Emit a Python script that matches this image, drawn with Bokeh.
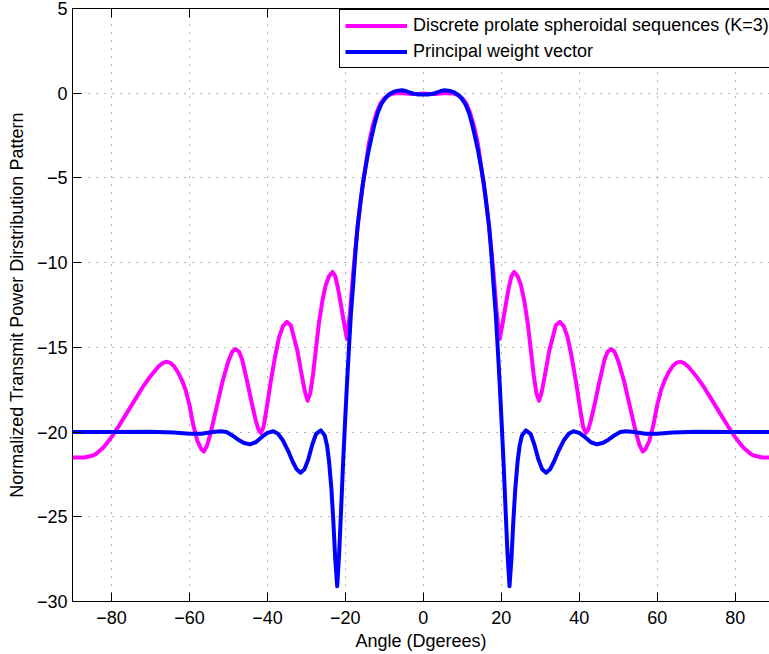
from bokeh.plotting import figure
from bokeh.models import Range1d, FixedTicker, LinearAxis, Legend, LegendItem
from bokeh.embed import file_html
from bokeh.resources import INLINE

# Discrete prolate spheroidal sequences (K=3)
angle_dpss = [-90, -87, -85, -84, -82, -80, -78, -76, -74, -72, -70, -68, -67, -66, -65, -64, -63, -62, -61,
              -60, -59, -58, -57, -56.3, -55.5, -54.5, -53, -51.5, -50, -49, -48.2, -47.3, -46.5, -45.1, -44,
              -43, -42.3, -41.7, -41, -40.2, -39.2, -38, -37, -36, -35, -34, -33.2, -32.3, -31.3, -30.4,
              -29.7, -29, -28.3, -27.6, -26.8, -25.9, -25, -24.2, -23.3, -22.6, -21.9, -21.2, -20.4, -19.6,
              -18.8, -18, -17, -16, -15, -14, -13, -12, -11, -10, -9, -8, -7, -5, -3, -1.5, 0,
              1.5, 3, 5, 7, 8, 9, 10, 11, 12, 13, 14, 15, 16, 17, 18, 18.8, 19.6, 20.4, 21.2, 21.9, 22.6,
              23.3, 24.2, 25, 25.9, 26.8, 27.6, 28.3, 29, 29.7, 30.4, 31.3, 32.3, 33.2, 34, 35, 36, 37, 38,
              39.2, 40.2, 41, 41.7, 42.3, 43, 44, 45.1, 46.5, 47.3, 48.2, 49, 50, 51.5, 53, 54.5, 55.5, 56.3,
              57, 58, 59, 60, 61, 62, 63, 64, 65, 66, 67, 68, 70, 72, 74, 76, 78, 80, 82, 84, 85, 87, 90]
gain_dpss = [-21.5, -21.5, -21.4, -21.3, -20.9, -20.3, -19.6, -18.85, -18.1, -17.35, -16.7, -16.15, -15.95,
             -15.85, -15.9, -16.1, -16.45, -16.9, -17.5, -18.4, -19.6, -20.5, -21.0, -21.15, -20.8, -20.0,
             -18.5, -17.0, -15.8, -15.25, -15.1, -15.25, -15.7, -17.1, -18.3, -19.3, -19.85, -20.05, -19.7,
             -18.6, -17.1, -15.5, -14.4, -13.75, -13.5, -13.7, -14.4, -15.2, -16.5, -17.6, -18.15, -17.7,
             -16.6, -15.2, -13.6, -12.25, -11.3, -10.8, -10.55, -10.8, -11.5, -12.4, -13.5, -14.5, -12.9,
             -10.6, -8.2, -6.2, -4.6, -3.0, -1.95, -1.15, -0.6, -0.3, -0.13, -0.04, 0.0, 0.0, -0.05, -0.04,
             -0.02,
             -0.04, -0.05, 0.0, 0.0, -0.04, -0.13, -0.3, -0.6, -1.15, -1.95, -3.0, -4.6, -6.2, -8.2, -10.6,
             -12.9, -14.5, -13.5, -12.4, -11.5, -10.8, -10.55, -10.8, -11.3, -12.25, -13.6, -15.2, -16.6,
             -17.7, -18.15, -17.6, -16.5, -15.2, -14.4, -13.7, -13.5, -13.75, -14.4, -15.5, -17.1, -18.6,
             -19.7, -20.05, -19.85, -19.3, -18.3, -17.1, -15.7, -15.25, -15.1, -15.25, -15.8, -17.0, -18.5,
             -20.0, -20.8, -21.15, -21.0, -20.5, -19.6, -18.4, -17.5, -16.9, -16.45, -16.1, -15.9, -15.85,
             -15.95, -16.15, -16.7, -17.35, -18.1, -18.85, -19.6, -20.3, -20.9, -21.3, -21.4, -21.5, -21.5]

# Principal weight vector
angle_pwv = [-90, -80, -70, -64, -60, -57, -54, -52, -50.5, -49, -47.5, -46, -44.5, -43, -41.5, -40, -38.5,
             -37.3, -36, -34.5, -33.5, -32.5, -31.5, -30.5, -29.5, -28.5, -27.5, -26.3, -25.3, -24.7, -24.2,
             -23.6, -23.1, -22.6, -22.1, -21.6, -21.1, -20.6, -20.1, -19.6, -19.1, -18.6, -18.0, -17.4,
             -16.8, -16.1, -15.5, -14.8, -14.0, -13.3, -12.5, -11.7, -10.8, -9.8, -8.8, -7.8, -6.8, -5.5,
             -4.5, -3.5, -2.5, -1.2, 0,
             1.2, 2.5, 3.5, 4.5, 5.5, 6.8, 7.8, 8.8, 9.8, 10.8, 11.7, 12.5, 13.3, 14.0, 14.8, 15.5, 16.1,
             16.8, 17.4, 18.0, 18.6, 19.1, 19.6, 20.1, 20.6, 21.1, 21.6, 22.1, 22.6, 23.1, 23.6, 24.2, 24.7,
             25.3, 26.3, 27.5, 28.5, 29.5, 30.5, 31.5, 32.5, 33.5, 34.5, 36, 37.3, 38.5, 40, 41.5, 43, 44.5,
             46, 47.5, 49, 50.5, 52, 54, 57, 60, 64, 70, 80, 90]
gain_pwv = [-20.0, -20.0, -19.98, -20.02, -20.1, -20.1, -20.0, -19.95, -20.0, -20.2, -20.45, -20.65, -20.72,
            -20.6, -20.3, -20.05, -19.95, -20.1, -20.5, -21.2, -21.75, -22.2, -22.4, -22.2, -21.6, -20.75,
            -20.1, -19.9, -20.2, -20.8, -21.7, -23.3, -25.2, -27.5, -29.1, -27.2, -24.6, -21.9, -19.5,
            -17.2, -15.1, -13.1, -11.3, -9.3, -7.7, -6.4, -5.3, -4.35, -3.35, -2.6, -1.8, -1.15, -0.65,
            -0.3, -0.08, 0.06, 0.13, 0.17, 0.13, 0.04, -0.03, -0.07, -0.08,
            -0.07, -0.03, 0.04, 0.13, 0.17, 0.13, 0.06, -0.08, -0.3, -0.65, -1.15, -1.8, -2.6, -3.35,
            -4.35, -5.3, -6.4, -7.7, -9.3, -11.3, -13.1, -15.1, -17.2, -19.5, -21.9, -24.6, -27.2, -29.1,
            -27.5, -25.2, -23.3, -21.7, -20.8, -20.2, -19.9, -20.1, -20.75, -21.6, -22.2, -22.4, -22.2,
            -21.75, -21.2, -20.5, -20.1, -19.95, -20.05, -20.3, -20.6, -20.72, -20.65, -20.45, -20.2,
            -20.0, -19.95, -20.0, -20.1, -20.1, -20.02, -19.98, -20.0, -20.0]

x_ticks = [-80, -60, -40, -20, 0, 20, 40, 60, 80]
x_tick_labels = ["−80", "−60", "−40", "−20", "0", "20", "40", "60", "80"]
y_ticks = [5, 0, -5, -10, -15, -20, -25, -30]
y_tick_labels = ["5", "0", "−5", "−10", "−15", "−20", "−25", "−30"]

series_labels = ["Discrete prolate spheroidal sequences (K=3)", "Principal weight vector"]
x_title = "Angle (Dgerees)"
y_title = "Normalized Transmit Power Dirstribution Pattern"

FONT = "Liberation Sans"

p = figure(width=769, height=654, output_backend="svg", toolbar_location=None,
           x_range=Range1d(-90, 88.8), y_range=Range1d(-30, 5),
           min_border_left=72, min_border_right=0, min_border_top=8, min_border_bottom=53)
p.outline_line_color = None
p.background_fill_color = "white"
p.border_fill_color = "white"

r1 = p.line(angle_dpss, gain_dpss, line_color="#FF00FF", line_width=4, line_join="round")
r2 = p.line(angle_pwv, gain_pwv, line_color="#0000FF", line_width=4, line_join="round")

for ax, ticks, labels in ((p.xaxis[0], x_ticks, x_tick_labels), (p.yaxis[0], y_ticks, y_tick_labels)):
    ax.ticker = FixedTicker(ticks=ticks)
    ax.major_label_overrides = {t: l for t, l in zip(ticks, labels)}
    ax.major_tick_in = 9
    ax.major_tick_out = 0
    ax.minor_tick_line_color = None
    ax.axis_line_color = "black"
    ax.axis_line_width = 1
    ax.major_tick_line_color = "black"
    ax.major_label_text_font = FONT
    ax.major_label_text_font_size = "18px"
    ax.major_label_text_color = "black"
    ax.axis_label_text_font = FONT
    ax.axis_label_text_font_size = "18px"
    ax.axis_label_text_font_style = "normal"
    ax.axis_label_text_color = "black"

p.xaxis[0].axis_label = x_title
p.yaxis[0].axis_label = y_title
p.xaxis[0].major_label_standoff = 9
p.xaxis[0].axis_label_standoff = 4
p.yaxis[0].major_label_standoff = 5
p.yaxis[0].axis_label_standoff = 7

top = LinearAxis(ticker=FixedTicker(ticks=x_ticks), major_tick_in=9, major_tick_out=0,
                 minor_tick_line_color=None, axis_line_color="black",
                 major_label_text_font_size="0px", major_label_standoff=0,
                 major_label_overrides={t: "" for t in x_ticks})
p.add_layout(top, "above")

p.xgrid.ticker = FixedTicker(ticks=x_ticks)
p.ygrid.ticker = FixedTicker(ticks=y_ticks)
for g in (p.xgrid, p.ygrid):
    g.grid_line_color = "#6a6a6a"
    g.grid_line_dash = "1 7"
    g.grid_line_width = 1

legend = Legend(items=[LegendItem(label=series_labels[0], renderers=[r1]),
                       LegendItem(label=series_labels[1], renderers=[r2])],
                location=(267, 533), padding=5, spacing=5, label_height=21, glyph_height=21,
                glyph_width=62, label_standoff=6, margin=0,
                border_line_color="black", border_line_width=1, border_line_alpha=1,
                background_fill_color="white", background_fill_alpha=1,
                label_text_font=FONT, label_text_font_size="18px", label_text_color="black")
p.add_layout(legend)

open("out.html", "w").write(file_html(p, INLINE))
